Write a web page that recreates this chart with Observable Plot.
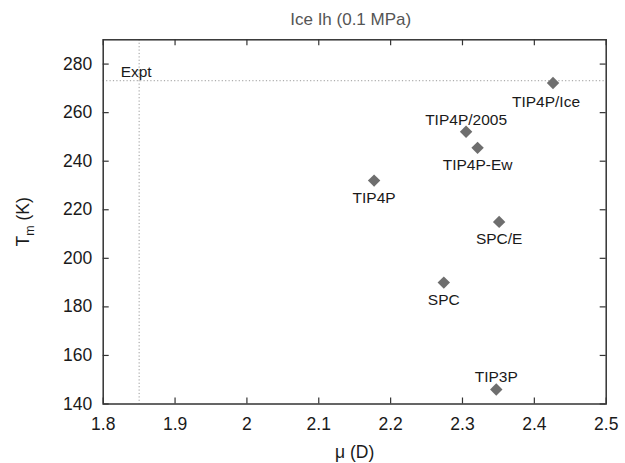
<!DOCTYPE html>
<html>
<head>
<meta charset="utf-8">
<script src="https://cdn.jsdelivr.net/npm/d3@7"></script>
<script src="https://cdn.jsdelivr.net/npm/@observablehq/plot@0.6"></script>
<style>
  html, body { margin: 0; padding: 0; background: #fff; }
  #chart svg { display: block; }
</style>
</head>
<body>
<div id="chart"></div>
<script>
// ---- data ----
const models = ["TIP4P/Ice", "TIP4P/2005", "TIP4P-Ew", "TIP4P", "SPC/E", "SPC", "TIP3P"];
const dipoles = [2.426, 2.305, 2.321, 2.177, 2.351, 2.274, 2.347];   // μ (D)
const meltingT = [272.2, 252.1, 245.5, 232.0, 215.0, 190.0, 146.0];  // Tm (K)
const labelPlacement = ["belowLeft", "above", "below", "below", "below", "below", "above"];
const exptDipole = [1.85];
const exptTm = [273.15];
const xTicks = [1.8, 1.9, 2.0, 2.1, 2.2, 2.3, 2.4, 2.5];
const xTickLabels = ["1.8", "1.9", "2", "2.1", "2.2", "2.3", "2.4", "2.5"];
const yTicks = [140, 160, 180, 200, 220, 240, 260, 280];
const titleText = "Ice Ih (0.1 MPa)";
const xLabel = "\u03bc (D)";

const points = models.map((m, i) => ({model: m, mu: dipoles[i], tm: meltingT[i], place: labelPlacement[i]}));
const xTickData = xTicks.map((v, i) => ({v, label: xTickLabels[i]}));

const W = 625, H = 463;
const mL = 102.7, mR = 19.3, mT = 39.3, mB = 59.5;
const innerH = H - mT - mB, innerW = W - mL - mR;
const font = "Liberation Sans, Arial, Helvetica, sans-serif";
const tick = 6;

const chart = Plot.plot({
  width: W,
  height: H,
  marginLeft: mL, marginRight: mR, marginTop: mT, marginBottom: mB,
  style: {fontFamily: font, background: "#fff"},
  x: {domain: [1.8, 2.5], axis: null},
  y: {domain: [140, 290], axis: null},
  marks: [
    // reference (experimental) lines
    Plot.ruleY(exptTm, {stroke: "#9a9a9a", strokeWidth: 1, strokeDasharray: "1.2,2.2"}),
    Plot.ruleX(exptDipole, {stroke: "#9a9a9a", strokeWidth: 1, strokeDasharray: "1.2,2.2"}),
    Plot.text(["Expt"], {x: () => exptDipole[0], y: () => exptTm[0], text: d => d, dx: -3, dy: -9,
      fontSize: 15.5, fill: "#1a1a1a", textAnchor: "middle", lineAnchor: "middle"}),
    // inward ticks on all four sides
    Plot.tickX(xTicks, {x: d => d, insetTop: innerH - tick, stroke: "#333", strokeWidth: 1.2}),
    Plot.tickX(xTicks, {x: d => d, insetBottom: innerH - tick, stroke: "#333", strokeWidth: 1.2}),
    Plot.tickY(yTicks, {y: d => d, insetRight: innerW - tick, stroke: "#333", strokeWidth: 1.2}),
    Plot.tickY(yTicks, {y: d => d, insetLeft: innerW - tick, stroke: "#333", strokeWidth: 1.2}),
    Plot.frame({stroke: "#333", strokeWidth: 1.5}),
    // tick labels
    Plot.text(xTickData, {x: "v", text: "label", frameAnchor: "bottom", dy: 20, fontSize: 17.5,
      fill: "#1a1a1a", textAnchor: "middle", lineAnchor: "middle"}),
    Plot.text(yTicks, {y: d => d, text: d => String(d), frameAnchor: "left", dx: -11, fontSize: 17.5,
      fill: "#1a1a1a", textAnchor: "end", lineAnchor: "middle"}),
    // data points
    Plot.dot(points, {x: "mu", y: "tm", symbol: "diamond2", r: 5.6, fill: "#6e6e6e", stroke: "none"}),
    Plot.text(points.filter(d => d.place === "below"), {x: "mu", y: "tm", text: "model", dy: 17.5,
      fontSize: 15.5, fill: "#1a1a1a", textAnchor: "middle", lineAnchor: "middle"}),
    Plot.text(points.filter(d => d.place === "belowLeft"), {x: "mu", y: "tm", text: "model", dx: -7, dy: 19,
      fontSize: 15.5, fill: "#1a1a1a", textAnchor: "middle", lineAnchor: "middle"}),
    Plot.text(points.filter(d => d.place === "above"), {x: "mu", y: "tm", text: "model", dy: -12,
      fontSize: 15.5, fill: "#1a1a1a", textAnchor: "middle", lineAnchor: "middle"}),
    // title and axis labels
    Plot.text([titleText], {text: d => d, frameAnchor: "top", dx: -4, dy: -20, fontSize: 17,
      fill: "#555", textAnchor: "middle", lineAnchor: "middle"}),
    Plot.text([xLabel], {text: d => d, frameAnchor: "bottom", dy: 48, fontSize: 17.5,
      fill: "#1a1a1a", textAnchor: "middle", lineAnchor: "middle"}),
    Plot.text(["T (K)"], {text: d => d, frameAnchor: "left", dx: -80, rotate: -90, fontSize: 17.5,
      fill: "#1a1a1a", textAnchor: "middle", lineAnchor: "middle", className: "ylab"})
  ]
});

// subscript "m" in the y-axis label
const yl = chart.querySelector(".ylab text");
if (yl) {
  yl.textContent = "";
  const ns = "http://www.w3.org/2000/svg";
  const a = document.createElementNS(ns, "tspan"); a.textContent = "T";
  const b = document.createElementNS(ns, "tspan"); b.textContent = "m";
  b.setAttribute("font-size", "12.5"); b.setAttribute("dy", "5");
  const c = document.createElementNS(ns, "tspan"); c.textContent = " (K)"; c.setAttribute("dy", "-5");
  yl.append(a, b, c);
}

document.getElementById("chart").append(chart);
</script>
</body>
</html>
